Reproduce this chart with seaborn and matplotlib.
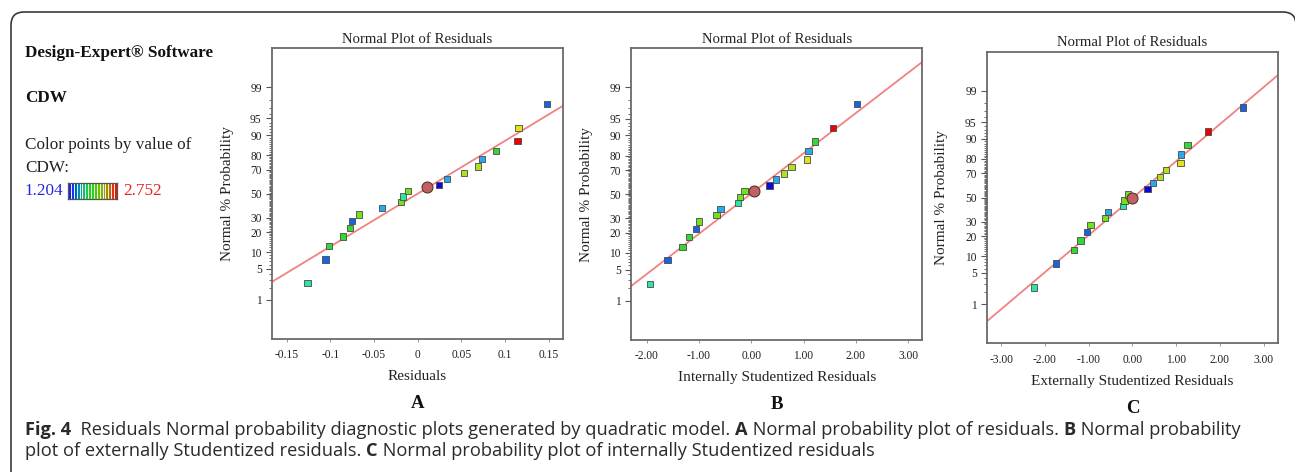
import numpy as np
import pandas as pd
import seaborn as sns
import matplotlib
matplotlib.use("Agg")
import matplotlib.pyplot as plt
from matplotlib.patches import FancyBboxPatch
from matplotlib.transforms import IdentityTransform
from matplotlib.colors import LinearSegmentedColormap
from statistics import NormalDist

# ---------------- data ----------------
prob_pct = [2.5, 7.5, 12.5, 17.5, 22.5, 27.5, 32.5, 37.5, 42.5, 47.5,
            52.5, 57.5, 62.5, 67.5, 72.5, 77.5, 82.5, 87.5, 92.5, 97.5]

resid_a = [-0.126, -0.1056, -0.1018, -0.0857, -0.0774, -0.0751, -0.0675, -0.0412,
           -0.0191, -0.0168, -0.0111, 0.0240, 0.0332, 0.0526, 0.0686, 0.0736,
           0.0896, 0.1143, 0.1151, 0.1482]
colors_a = ["aqua", "blue", "green", "green", "green", "blue", "lime", "lightblue",
            "lime", "aqua", "lime", "darkblue", "lightblue", "yellowgreen",
            "yellowgreen", "lightblue", "green", "red", "yellow", "blue"]
highlight_a = (0.0107, 55.5)

resid_b = [-1.936, -1.600, -1.318, -1.185, -1.057, -1.000, -0.662, -0.586,
           -0.248, -0.210, -0.127, 0.350, 0.471, 0.631, 0.771, 1.064,
           1.096, 1.217, 1.567, 2.025]
colors_b = ["aqua", "blue", "green", "green", "blue", "lime", "lime", "lightblue",
            "aqua", "lime", "lime", "darkblue", "lightblue", "yellowgreen",
            "yellowgreen", "yellow", "lightblue", "green", "red", "blue"]
highlight_b = (0.051, 52.9)

resid_c = [-2.247, -1.744, -1.340, -1.188, -1.043, -0.960, -0.625, -0.556,
           -0.221, -0.183, -0.107, 0.350, 0.465, 0.625, 0.769, 1.097,
           1.112, 1.264, 1.729, 2.536]
colors_c = ["aqua", "blue", "green", "green", "blue", "lime", "lime", "lightblue",
            "aqua", "lime", "lime", "darkblue", "lightblue", "yellowgreen",
            "yellowgreen", "yellow", "lightblue", "green", "red", "blue"]
highlight_c = (0.0, 50.0)

# reference line (mean, sd) of each normal plot
line_a = (0.0, 0.0864)
line_b = (-0.015, 1.139)
line_c = (0.02, 1.239)

xticks_a = [-0.15, -0.1, -0.05, 0, 0.05, 0.1, 0.15]
xlabels_a = ["-0.15", "-0.1", "-0.05", "0", "0.05", "0.1", "0.15"]
xticks_b = [-2, -1, 0, 1, 2, 3]
xlabels_b = ["-2.00", "-1.00", "0.00", "1.00", "2.00", "3.00"]
xticks_c = [-3, -2, -1, 0, 1, 2, 3]
xlabels_c = ["-3.00", "-2.00", "-1.00", "0.00", "1.00", "2.00", "3.00"]

ytick_pct = [1, 5, 10, 20, 30, 50, 70, 80, 90, 95, 99]

xlabel_a = "Residuals"
xlabel_b = "Internally Studentized Residuals"
xlabel_c = "Externally Studentized Residuals"
panel_letters = ["A", "B", "C"]
title = "Normal Plot of Residuals"
ylabel = "Normal % Probability"

cdw_low, cdw_high = "1.204", "2.752"

point_palette = {
    "blue": "#1664e4", "darkblue": "#0a0ad8", "lightblue": "#28a8ee",
    "aqua": "#2ae6a2", "green": "#34d834", "lime": "#74e01e",
    "yellowgreen": "#b2e01e", "yellow": "#e0e41a", "red": "#f00000",
}

# ---------------- style ----------------
sns.set_theme(style="ticks")
plt.rcParams["font.family"] = ["Liberation Serif", "DejaVu Serif"]

W, H = 1295, 472
fig = plt.figure(figsize=(W / 100, H / 100), dpi=100)

nd = NormalDist()
def probit(p):
    return nd.inv_cdf(p / 100.0)

def px_axes(l, t, r, b):
    return fig.add_axes([l / W, 1 - b / H, (r - l) / W, (b - t) / H])

panels = [
    dict(rect=(271.7, 48.3, 563.3, 339.0), x=resid_a, c=colors_a, hl=highlight_a,
         line=line_a, xlim=(-0.167, 0.1665), xt=xticks_a, xl=xlabels_a, xlabel=xlabel_a),
    dict(rect=(631.0, 48.3, 922.3, 340.0), x=resid_b, c=colors_b, hl=highlight_b,
         line=line_b, xlim=(-2.30, 3.27), xt=xticks_b, xl=xlabels_b, xlabel=xlabel_b),
    dict(rect=(986.7, 51.7, 1278.3, 343.3), x=resid_c, c=colors_c, hl=highlight_c,
         line=line_c, xlim=(-3.33, 3.336), xt=xticks_c, xl=xlabels_c, xlabel=xlabel_c),
]

minor_pct = [p for p in range(1, 100) if p not in ytick_pct]

for i, P in enumerate(panels):
    ax = px_axes(*P["rect"])
    ax_w = P["rect"][2] - P["rect"][0]
    ax_h = P["rect"][3] - P["rect"][1]
    df = pd.DataFrame({"x": P["x"], "z": [probit(p) for p in prob_pct], "col": P["c"]})
    # reference line
    mu, sd = P["line"]
    xl = np.array(P["xlim"])
    ax.plot(xl, (xl - mu) / sd, color="#f08282", lw=1.3, zorder=1)
    sns.scatterplot(data=df, x="x", y="z", hue="col", palette=point_palette,
                    marker="s", s=21, edgecolor="#4a4a4a", linewidth=0.6,
                    legend=False, ax=ax, zorder=3)
    hx, hp = P["hl"]
    sns.scatterplot(x=[hx], y=[probit(hp)], marker="o", s=62, color="#c06262",
                    edgecolor="#5a3030", linewidth=0.8, ax=ax, zorder=4, legend=False)
    ax.set_xlim(*P["xlim"])
    ax.set_ylim(-3.18, 3.18)
    ax.set_xticks(P["xt"])
    ax.set_xticklabels(P["xl"], fontsize=8.3)
    ax.set_yticks([probit(p) for p in ytick_pct])
    ax.set_yticklabels([str(p) for p in ytick_pct], fontsize=8.3)
    ax.set_yticks([probit(p) for p in minor_pct], minor=True)
    ax.tick_params(axis="y", which="major", direction="out", length=4.2, width=0.8,
                   color="#555555", pad=3, labelcolor="#222222")
    ax.tick_params(axis="y", which="minor", direction="out", length=2.2, width=0.6,
                   color="#555555")
    ax.tick_params(axis="x", which="major", direction="out", length=2.5, width=0.7,
                   color="#999999", pad=5, labelcolor="#222222")
    for s in ax.spines.values():
        s.set_visible(True)
        s.set_color("#6a6a6a")
        s.set_linewidth(1.3)
    ax.set_title(title, fontsize=10.6, pad=4, color="#222222")
    ax.set_xlabel(P["xlabel"], fontsize=11, color="#222222")
    ax.xaxis.label.set_va("center")
    ax.xaxis.set_label_coords(0.5, -38 / ax_h)
    ax.set_ylabel(ylabel, fontsize=11, color="#222222")
    ax.yaxis.label.set_va("center")
    ax.yaxis.set_label_coords(-44.7 / ax_w, 0.5)
    ax.text(0.5, -65 / ax_h, panel_letters[i], transform=ax.transAxes, ha="center",
            va="center", fontsize=13.5, fontweight="bold", color="#111111")

# ---------------- left legend block ----------------
def pxt(x, y, s, **kw):
    return fig.text(x / W, 1 - y / H, s, **kw)

pxt(25, 53, "Design-Expert® Software", fontsize=12.3, fontweight="bold",
    va="center", color="#111111")
pxt(25, 98, "CDW", fontsize=12.3, fontweight="bold", va="center", color="#111111")
pxt(25, 145, "Color points by value of", fontsize=12.3, va="center", color="#222222")
pxt(25, 168, "CDW:", fontsize=12.3, va="center", color="#222222")
pxt(25, 191, cdw_low, fontsize=12.3, va="center", color="#2626e0")
pxt(123, 191, cdw_high, fontsize=12.3, va="center", color="#e82020")

cax = px_axes(68, 183, 117, 199)
stripe_cmap = LinearSegmentedColormap.from_list(
    "cdw", ["#1a1aff", "#0050d0", "#0098b0", "#10c870", "#20d020", "#40d000",
            "#70c400", "#a09a00", "#c86000", "#f01010"])
n_str = 17
cax.imshow(np.arange(n_str)[None, :], cmap=stripe_cmap, aspect="auto",
           extent=(0, n_str, 0, 1))
for k in range(1, n_str):
    cax.axvline(k, color="#f4f4f4", lw=0.7)
cax.set_xticks([]); cax.set_yticks([])
for s in cax.spines.values():
    s.set_color("#555555"); s.set_linewidth(0.9)

# ---------------- frame ----------------
frame = FancyBboxPatch((11, -60), 1285, H - 12 + 60,
                       boxstyle="round,pad=0,rounding_size=13",
                       transform=IdentityTransform(), fill=False,
                       edgecolor="#3a3a3a", linewidth=1.2, zorder=0)
fig.patches.append(frame)

# ---------------- caption ----------------
cap_font = ["Open Sans", "DejaVu Sans"]
renderer = fig.canvas.get_renderer()

def measure(txt, weight, size):
    t1 = fig.text(0, 0, "|" + txt + "|", transform=IdentityTransform(),
                  fontsize=size, fontweight=weight, family=cap_font)
    t2 = fig.text(0, 0, "||", transform=IdentityTransform(),
                  fontsize=size, fontweight=weight, family=cap_font)
    w = t1.get_window_extent(renderer).width - t2.get_window_extent(renderer).width
    t1.remove(); t2.remove()
    return w

line1 = [("Fig. 4", "bold"),
         ("  Residuals Normal probability diagnostic plots generated by quadratic model. ", "normal"),
         ("A", "bold"), (" Normal probability plot of residuals. ", "normal"),
         ("B", "bold"), (" Normal probability", "normal")]
line2 = [("plot of externally Studentized residuals. ", "normal"), ("C", "bold"),
         (" Normal probability plot of internally Studentized residuals", "normal")]

ref_size = 10.0
w_ref = sum(measure(t, w, ref_size) for t, w in line1)
cap_size = ref_size * 1220.0 / w_ref

def place(segs, x0, y_img):
    x = x0
    for txt, weight in segs:
        fig.text(x, H - y_img, txt, transform=IdentityTransform(), fontsize=cap_size,
                 fontweight=weight, family=cap_font, va="center", color="#2a2a2a")
        x += measure(txt, weight, cap_size)

place(line1, 25, 430)
place(line2, 25, 451)

fig.savefig("out.png", dpi=100)
